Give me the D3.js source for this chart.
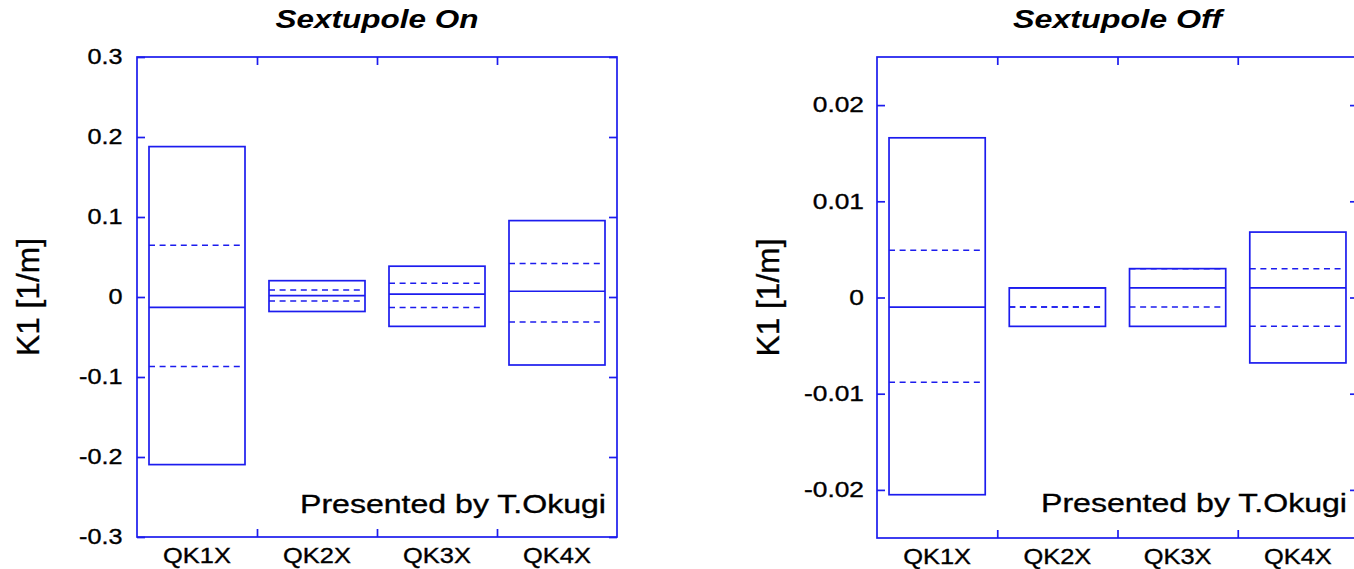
<!DOCTYPE html>
<html>
<head>
<meta charset="utf-8">
<script src="https://cdn.jsdelivr.net/npm/d3@7"></script>
<style>
  html, body { margin: 0; padding: 0; background: #ffffff; }
  svg { display: block; }
  text { font-family: "Liberation Sans", Arial, Helvetica, sans-serif; fill: #000; }
</style>
</head>
<body>
<script>
// ---------------- data ----------------
const categories = ["QK1X", "QK2X", "QK3X", "QK4X"];

// Sextupole On
const onMax    = [0.188, 0.0204, 0.0385, 0.0955];
const onHigh   = [0.0647, 0.0086, 0.0172, 0.042];
const onMedian = [-0.013, 0.0018, 0.0036, 0.0072];
const onLow    = [-0.0869, -0.005, -0.0131, -0.0312];
const onMin    = [-0.2095, -0.0181, -0.0367, -0.085];
const onTicks  = [-0.3, -0.2, -0.1, 0, 0.1, 0.2, 0.3];
const onTickLabels = ["-0.3", "-0.2", "-0.1", "0", "0.1", "0.2", "0.3"];
const onDomain = [-0.3, 0.3];

// Sextupole Off
const offMax    = [0.0166, 0.001, 0.003, 0.0068];
const offHigh   = [0.0049, -0.001, 0.003, 0.003];
const offMedian = [-0.001, 0.001, 0.001, 0.001];
const offLow    = [-0.0088, -0.001, -0.001, -0.003];
const offMin    = [-0.0205, -0.003, -0.003, -0.0068];
const offTicks  = [-0.02, -0.01, 0, 0.01, 0.02];
const offTickLabels = ["-0.02", "-0.01", "0", "0.01", "0.02"];
const offDomain = [-0.025, 0.025];

const titles = ["Sextupole On", "Sextupole Off"];
const yLabel = "K1 [1/m]";
const credit = "Presented by T.Okugi";

// ---------------- layout ----------------
const W = 1354, H = 569;
const BLUE = "#1c1cee";
const FONT = "Liberation Sans, Arial, Helvetica, sans-serif";

const panels = [
  { title: titles[0], x0: 137, x1: 617, y0: 57, y1: 537, domain: onDomain,
    ticks: onTicks, labels: onTickLabels, max: onMax, hi: onHigh, med: onMedian, lo: onLow, min: onMin,
    pad: 14.5, tickK: 1.12, ylabX: 39, titleW: 203, creditBase: 513 },
  { title: titles[1], x0: 877, x1: 1358, y0: 57, y1: 538, domain: offDomain,
    ticks: offTicks, labels: offTickLabels, max: offMax, hi: offHigh, med: offMedian, lo: offLow, min: offMin,
    pad: 13, tickK: 1.17, ylabX: 779, titleW: 209, creditBase: 512 }
];

const svg = d3.select("body").append("svg")
  .attr("width", W).attr("height", H)
  .style("background", "#ffffff");

function stretch(sel, k) {
  sel.each(function () {
    const w = this.getComputedTextLength();
    if (w > 0) d3.select(this).attr("textLength", w * k).attr("lengthAdjust", "spacingAndGlyphs");
  });
}

function styleText(sel, size) {
  sel.style("font-size", size + "px").style("font-family", FONT)
    .attr("fill", "#000").attr("stroke", "#000").attr("stroke-width", 0.35);
}

function drawPanel(p) {
  const g = svg.append("g");
  const x = d3.scaleBand().domain(categories).range([p.x0, p.x1]).paddingInner(0).paddingOuter(0);
  const xb = d3.scaleLinear().domain([0, categories.length]).range([p.x0, p.x1]);
  const y = d3.scaleLinear().domain(p.domain).range([p.y1, p.y0]);

  const bw = x.bandwidth() * 0.8;
  const off = (x.bandwidth() - bw) / 2;

  categories.forEach((c, i) => {
    const bx = x(c) + off;
    [p.hi[i], p.lo[i]].forEach(v => {
      g.append("line")
        .attr("x1", bx).attr("x2", bx + bw - 5)
        .attr("y1", y(v)).attr("y2", y(v))
        .attr("stroke", BLUE).attr("stroke-width", 1.5)
        .attr("stroke-dasharray", "6,4.6");
    });
    g.append("rect")
      .attr("x", bx).attr("y", y(p.max[i]))
      .attr("width", bw).attr("height", y(p.min[i]) - y(p.max[i]))
      .attr("fill", "none").attr("stroke", BLUE).attr("stroke-width", 1.7);
    g.append("line")
      .attr("x1", bx).attr("x2", bx + bw)
      .attr("y1", y(p.med[i])).attr("y2", y(p.med[i]))
      .attr("stroke", BLUE).attr("stroke-width", 1.7);
  });

  g.append("rect")
    .attr("x", p.x0).attr("y", p.y0)
    .attr("width", p.x1 - p.x0).attr("height", p.y1 - p.y0)
    .attr("fill", "none").attr("stroke", BLUE).attr("stroke-width", 1.7);

  const yl = g.append("g").attr("transform", `translate(${p.x0},0)`)
    .call(d3.axisLeft(y).tickValues(p.ticks).tickFormat((d, i) => p.labels[i])
      .tickSizeInner(-8).tickSizeOuter(0).tickPadding(p.pad));
  yl.select(".domain").remove();
  yl.selectAll(".tick line").attr("stroke", BLUE).attr("stroke-width", 1.7);
  const ylt = yl.selectAll(".tick text").attr("dy", "0.3em");
  styleText(ylt, 22.5);
  stretch(ylt, p.tickK);

  const yr = g.append("g").attr("transform", `translate(${p.x1},0)`)
    .call(d3.axisRight(y).tickValues(p.ticks).tickFormat("").tickSizeInner(-8).tickSizeOuter(0));
  yr.select(".domain").remove();
  yr.selectAll(".tick line").attr("stroke", BLUE).attr("stroke-width", 1.7);

  const xbT = d3.range(1, categories.length);
  const xB = g.append("g").attr("transform", `translate(0,${p.y1})`)
    .call(d3.axisBottom(xb).tickValues(xbT).tickFormat("").tickSizeInner(-8).tickSizeOuter(0));
  xB.select(".domain").remove();
  xB.selectAll(".tick line").attr("stroke", BLUE).attr("stroke-width", 1.7);
  const xT = g.append("g").attr("transform", `translate(0,${p.y0})`)
    .call(d3.axisTop(xb).tickValues(xbT).tickFormat("").tickSizeInner(-8).tickSizeOuter(0));
  xT.select(".domain").remove();
  xT.selectAll(".tick line").attr("stroke", BLUE).attr("stroke-width", 1.7);

  const xc = g.append("g").attr("transform", `translate(0,${p.y1})`)
    .call(d3.axisBottom(x).tickSize(0).tickPadding(10));
  xc.select(".domain").remove();
  const xct = xc.selectAll(".tick text");
  styleText(xct, 22.5);
  stretch(xct, 1.13);

  g.append("text")
    .attr("x", (p.x0 + p.x1) / 2).attr("y", 28)
    .attr("text-anchor", "middle")
    .style("font-size", "25px").attr("font-weight", "bold").attr("font-style", "italic")
    .attr("textLength", p.titleW).attr("lengthAdjust", "spacingAndGlyphs")
    .text(p.title);

  const yt = g.append("text")
    .attr("transform", `translate(${p.ylabX},${(p.y0 + p.y1) / 2}) rotate(-90)`)
    .attr("text-anchor", "middle")
    .attr("textLength", 118).attr("lengthAdjust", "spacingAndGlyphs")
    .text(yLabel);
  styleText(yt, 31);

  const ct = g.append("text")
    .attr("x", p.x1 - 11).attr("y", p.creditBase)
    .attr("text-anchor", "end")
    .attr("textLength", 306).attr("lengthAdjust", "spacingAndGlyphs")
    .text(credit);
  styleText(ct, 26);
}

panels.forEach(drawPanel);
</script>
</body>
</html>
